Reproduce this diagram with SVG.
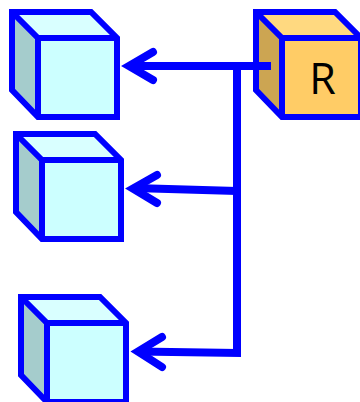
<svg xmlns="http://www.w3.org/2000/svg" width="360" height="402" viewBox="0 0 360 402">
<style>
.front{fill:var(--f,#cff)}.top{fill:var(--t,#d9ffff)}.side{fill:var(--s,#a5cccc)}
.l{fill:none;stroke:#00f;stroke-width:6;stroke-linejoin:miter}
.r{--f:#fc6;--t:#ffd980;--s:#cca552}
.c{fill:none;stroke:#00f;stroke-width:8;stroke-linecap:butt;stroke-linejoin:miter}
.h{fill:none;stroke:#00f;stroke-width:8;stroke-linecap:round;stroke-linejoin:miter;stroke-miterlimit:6}
</style>
<defs>
<g id="cube">
<path class="side" d="M0 0L26 26V105L0 78Z"/>
<path class="top" d="M0 0H79L105 26H26Z"/>
<rect class="front" x="26" y="26" width="79" height="79"/>
<path class="l" d="M0 0H79L105 26V105H26L0 78Z"/>
<path class="l" d="M0 0L26 26H105M26 26V105"/>
</g>
</defs>
<g id="node-1"><use href="#cube" x="12" y="12"/></g>
<g id="node-2"><use href="#cube" x="16" y="134"/></g>
<g id="node-3"><use href="#cube" x="21" y="297"/></g>
<g id="node-r" class="r"><use href="#cube" x="256" y="12"/>
<text x="322.500" y="94" text-anchor="middle" font-family="'Open Sans',sans-serif" font-size="43" fill="#000">R</text></g>
<g id="connectors">
<path class="c" d="M271 66H130M237 66V353L138 351.500"/>
<path class="c" d="M237 191L134 188"/>
<path class="h" d="M153 52L129 66L153 80"/>
<path class="h" d="M157 175L133 188.500L157 203"/>
<path class="h" d="M162 337L138 351.500L162 367"/>
</g>
</svg>
